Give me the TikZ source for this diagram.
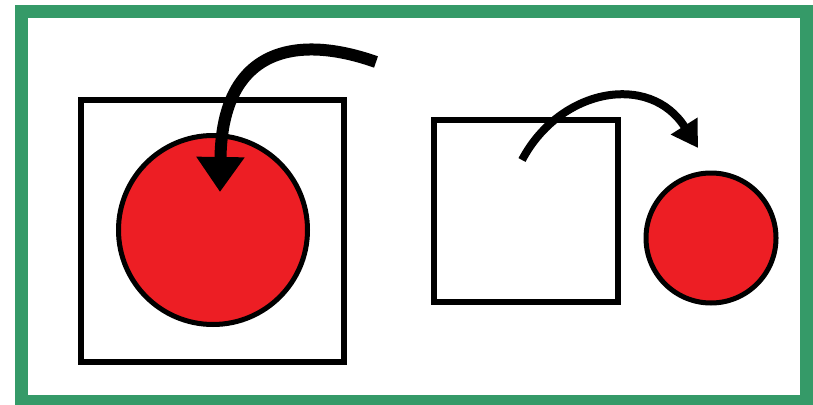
\documentclass[tikz,border=0pt]{standalone}
\usetikzlibrary{arrows.meta}
\definecolor{frameg}{RGB}{53,154,104}
\definecolor{ballred}{RGB}{237,30,36}
\begin{document}
\begin{tikzpicture}[x=1pt,y=-1pt,
  boxshape/.style={draw=black,line width=5.5pt,fill=none},
  ball/.style={circle,draw=black,line width=5pt,fill=ballred,inner sep=0pt},
  bigarrow/.style={line width=12pt,-{Triangle[width=46pt,length=35pt]}},
  smallarrow/.style={line width=8pt,-{Triangle[width=30pt,length=26pt]}}]
\useasboundingbox (0,0) rectangle (813,404);
\fill[white] (0,0) rectangle (813,404);
\draw[frameg,line width=13pt] (21.5,11.5) rectangle (806.5,401.5);
% left
\node[boxshape,minimum width=263pt,minimum height=262pt,inner sep=0pt] (sqL) at (212.5,231) {};
\node[ball,minimum size=189pt] (cL) at (213,230) {};
\coordinate (aLs) at (376,62);
\coordinate (aLe) at (220,192);
\draw[bigarrow] (aLs) .. controls (300,35) and (222,45) .. (aLe);
% right
\node[boxshape,minimum width=184pt,minimum height=182pt,inner sep=0pt] (sqR) at (526,211) {};
\node[ball,minimum size=130pt] (cR) at (711,238) {};
\coordinate (aRs) at (522,160);
\coordinate (aRe) at (698,148);
\draw[smallarrow] (aRs) .. controls (560,88) and (650,72) .. (aRe);
\end{tikzpicture}
\end{document}
